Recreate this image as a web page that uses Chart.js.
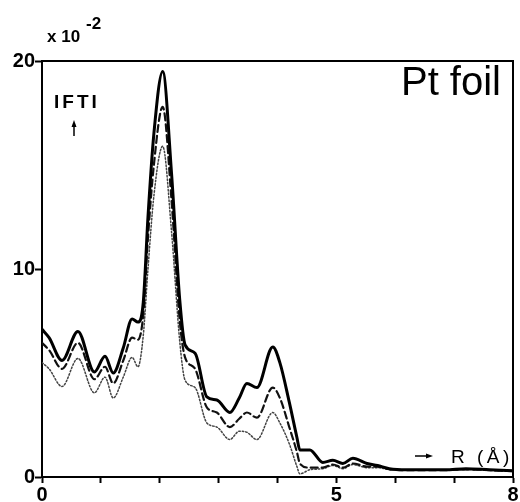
<!DOCTYPE html>
<html>
<head>
<meta charset="utf-8">
<script src="https://cdn.jsdelivr.net/npm/chart.js@4"></script>
<style>
  html, body { margin: 0; padding: 0; background: #fff; }
  #wrap { width: 520px; height: 502px; }
</style>
</head>
<body>
<div id="wrap"><canvas id="c" width="520" height="502"></canvas></div>
<script>
// Radial distance R (Å) sampling points shared by the three transforms
const rValues = [0, 0.12, 0.34, 0.61, 0.89, 1.07, 1.21, 1.38, 1.53, 1.63, 1.72, 1.8, 1.9, 2.05, 2.2, 2.34, 2.43, 2.6, 2.8, 2.97, 3.19, 3.35, 3.48, 3.65, 3.92, 4.04, 4.2, 4.33, 4.38, 4.55, 4.77, 4.94, 5.11, 5.28, 5.52, 5.7, 5.9, 6.2, 6.5, 6.85, 7.2, 7.6, 8.0];

// |FT| magnitudes (units of 10^-2)
const ftSolid  = [7.1, 6.7, 5.6, 7.0, 5.05, 5.8, 5.0, 6.2, 7.6, 7.45, 8.4, 12.5, 16.5, 19.5, 14.6, 8.5, 6.35, 5.95, 3.85, 3.7, 3.1, 3.8, 4.5, 4.3, 6.25, 5.5, 3.6, 1.9, 1.3, 1.3, 0.7, 0.8, 0.65, 0.9, 0.65, 0.55, 0.4, 0.35, 0.35, 0.35, 0.4, 0.35, 0.3];
const ftDashed = [6.45, 6.1, 5.2, 6.45, 4.7, 5.3, 4.5, 5.6, 6.7, 6.6, 7.8, 11.5, 15.0, 17.8, 13.3, 7.5, 5.75, 5.2, 3.35, 3.1, 2.4, 2.8, 3.1, 2.85, 4.3, 3.8, 2.4, 1.2, 0.65, 0.45, 0.45, 0.6, 0.45, 0.65, 0.5, 0.5, 0.38, 0.33, 0.33, 0.33, 0.37, 0.33, 0.28];
const ftDotted = [5.5, 5.2, 4.35, 5.7, 4.05, 4.8, 3.8, 4.8, 5.75, 5.3, 6.8, 10.0, 13.5, 15.9, 11.8, 6.5, 4.65, 4.3, 2.6, 2.4, 1.8, 2.2, 2.15, 1.8, 3.1, 2.6, 1.6, 0.5, 0.15, 0.35, 0.4, 0.55, 0.4, 0.6, 0.45, 0.45, 0.36, 0.32, 0.32, 0.32, 0.36, 0.32, 0.27];

// Axis ticks
const xTickLabels = { 0: '0', 5: '5', 8: '8' };
const yTickValues = [0, 10, 20];

const toPoints = ys => rValues.map((r, i) => ({ x: r, y: ys[i] }));

const TICK_FONT = { family: "'Liberation Sans', Arial, sans-serif", size: 20, weight: 'bold' };

// Frame on the top and right plus the free-standing annotations
const decorations = {
  id: 'decorations',
  afterDraw(chart) {
    const { ctx, chartArea: a } = chart;
    ctx.save();
    ctx.strokeStyle = '#000';
    ctx.fillStyle = '#000';
    ctx.lineWidth = 2;
    ctx.beginPath();
    ctx.moveTo(a.left, a.top);
    ctx.lineTo(a.right, a.top);
    ctx.lineTo(a.right, a.bottom);
    ctx.stroke();

    // multiplier above the y axis
    ctx.textBaseline = 'alphabetic';
    ctx.textAlign = 'left';
    ctx.font = "bold 17px 'Liberation Sans', Arial, sans-serif";
    ctx.fillText('x 10', a.left + 5, a.top - 19);
    ctx.font = "bold 17px 'Liberation Sans', Arial, sans-serif";
    ctx.fillText('-2', a.left + 44, a.top - 32);

    // ordinate name with upward arrow
    ctx.font = "bold 19px 'Liberation Sans', Arial, sans-serif";
    ctx.letterSpacing = '3px';
    ctx.fillText('IFTI', a.left + 12, a.top + 47);
    ctx.letterSpacing = '0px';
    ctx.lineWidth = 1.5;
    const ax = a.left + 32;
    ctx.beginPath();
    ctx.moveTo(ax, a.top + 75);
    ctx.lineTo(ax, a.top + 64);
    ctx.stroke();
    ctx.beginPath();
    ctx.moveTo(ax, a.top + 59);
    ctx.lineTo(ax - 2.5, a.top + 66);
    ctx.lineTo(ax + 2.5, a.top + 66);
    ctx.closePath();
    ctx.fill();

    // abscissa name with right arrow
    const ay = a.bottom - 21;
    ctx.beginPath();
    ctx.moveTo(a.right - 98, ay);
    ctx.lineTo(a.right - 86, ay);
    ctx.stroke();
    ctx.beginPath();
    ctx.moveTo(a.right - 80, ay);
    ctx.lineTo(a.right - 87, ay - 2.5);
    ctx.lineTo(a.right - 87, ay + 2.5);
    ctx.closePath();
    ctx.fill();
    ctx.font = "19px 'Liberation Sans', Arial, sans-serif";
    ctx.letterSpacing = '3.5px';
    ctx.fillText('R (Å)', a.right - 62, ay + 7);
    ctx.letterSpacing = '0px';

    // sample label
    ctx.font = "40px 'Liberation Sans', Arial, sans-serif";
    ctx.textAlign = 'right';
    ctx.fillText('Pt foil', a.right - 12, a.top + 34);
    ctx.restore();
  }
};

new Chart(document.getElementById('c'), {
  type: 'line',
  data: {
    datasets: [
      { data: toPoints(ftSolid),  borderColor: '#000', borderWidth: 3 },
      { data: toPoints(ftDashed), borderColor: '#111', borderWidth: 2.2, borderDash: [7, 4] },
      { data: toPoints(ftDotted), borderColor: '#444', borderWidth: 1.5, borderDash: [1.5, 2] }
    ]
  },
  options: {
    responsive: false,
    animation: false,
    events: [],
    layout: { padding: { top: 61, right: 7, left: 0, bottom: 0 } },
    elements: {
      point: { radius: 0 },
      line: { cubicInterpolationMode: 'monotone', fill: false, borderCapStyle: 'round', borderJoinStyle: 'round' }
    },
    plugins: { legend: { display: false }, tooltip: { enabled: false } },
    scales: {
      x: {
        type: 'linear', min: 0, max: 8,
        afterFit(s) { s.height = 25; },
        border: { display: true, color: '#000', width: 2 },
        grid: { drawOnChartArea: false, drawTicks: true, tickLength: 6, color: '#000', tickWidth: 2 },
        ticks: {
          stepSize: 1, autoSkip: false, maxRotation: 0, padding: 0,
          color: '#000', font: TICK_FONT,
          callback: v => (xTickLabels[v] !== undefined ? xTickLabels[v] : '')
        }
      },
      y: {
        type: 'linear', min: 0, max: 20,
        afterFit(s) { s.width = 42; },
        afterBuildTicks(s) { s.ticks = yTickValues.map(v => ({ value: v })); },
        border: { display: true, color: '#000', width: 2 },
        grid: { drawOnChartArea: false, drawTicks: true, tickLength: 7, color: '#000', tickWidth: 2 },
        ticks: { padding: 0, color: '#000', font: TICK_FONT }
      }
    }
  },
  plugins: [decorations]
});
</script>
</body>
</html>
